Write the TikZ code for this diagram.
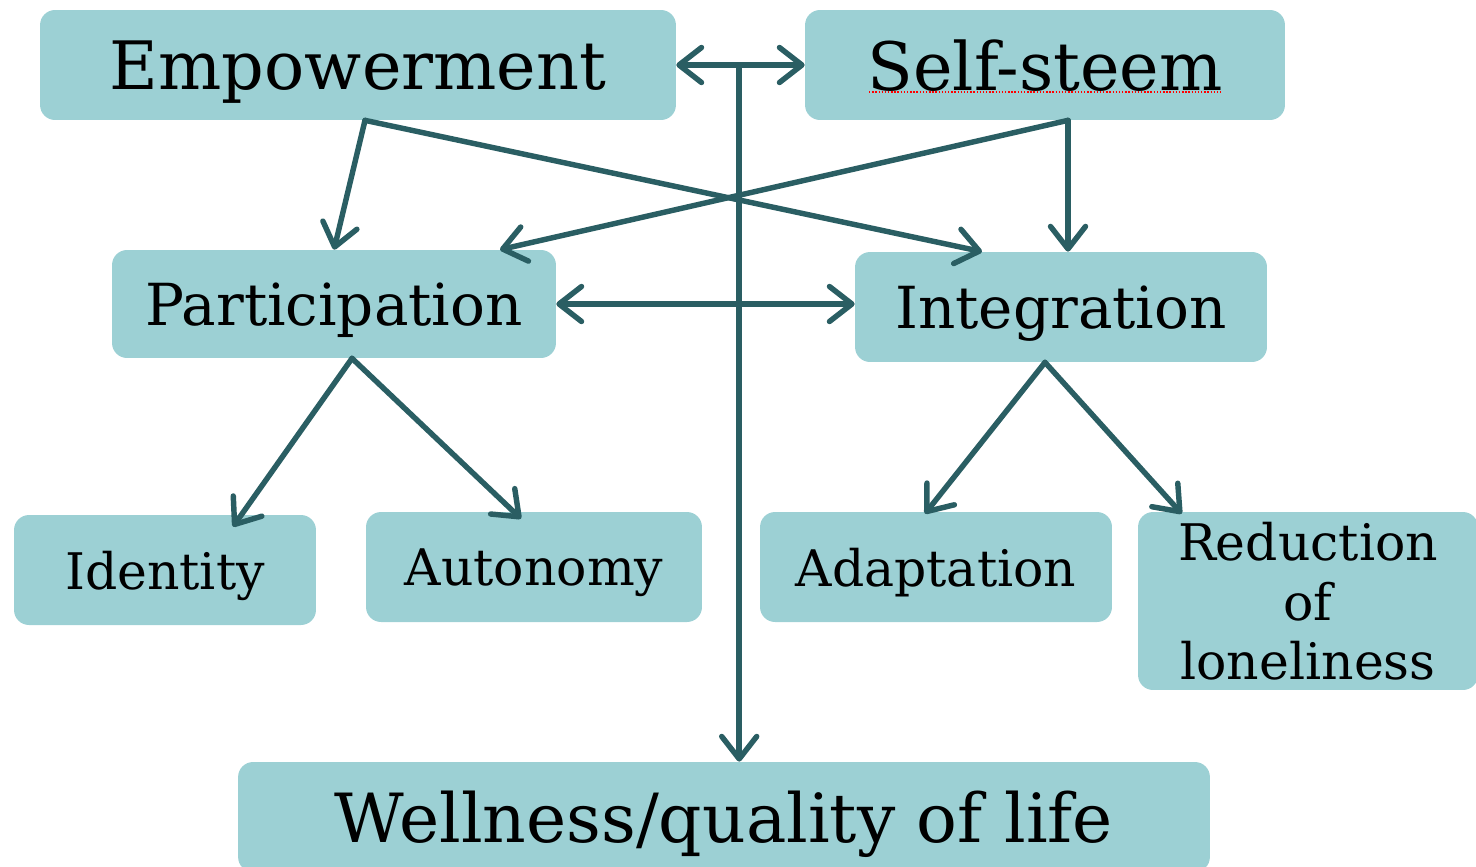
\documentclass[tikz,border=0pt]{standalone}
\usepackage{fontspec}
\setmainfont{DejaVu Serif}
\usetikzlibrary{arrows.meta,calc}

\begin{document}
\begin{tikzpicture}[x=0.02cm, y=-0.02cm]
        % Colours of the boxes and of the links
        \definecolor{boxColor}{RGB}{156,208,212}  % light teal boxes
        \definecolor{linkColor}{RGB}{42,94,99}    % dark teal arrows

        \tikzset{
            box/.style={fill=boxColor, rounded corners=0.3cm, inner sep=0pt, align=center, text depth=0pt},
            bigText/.style={font=\fontsize{38}{45}\selectfont},
            wellText/.style={font=\fontsize{38.6}{46}\selectfont},
            midText/.style={font=\fontsize{33}{40}\selectfont},
            smallText/.style={font=\fontsize{28.7}{34}\selectfont},
            link/.style={draw=linkColor, line width=3.1pt, line cap=round, -{Straight Barb[length=4.5mm, width=7mm, round]}},
            twoWay/.style={link, {Straight Barb[length=4.5mm, width=7mm, round]}-{Straight Barb[length=4.5mm, width=7mm, round]}}
        }

        % Fix the margins of the page
        \useasboundingbox (0,0) rectangle (1476,866);

        % Top row
        \node[box, bigText, minimum width=12.72cm, minimum height=2.2cm] (emp)  at (358,65)  {Empowerment};
        \node[box, bigText, minimum width=9.6cm,  minimum height=2.2cm] (self) at (1045,65) {Self-steem};
        % Spell-check underline under Self-steem
        \draw[red, densely dotted, line width=0.8pt] ($(self.center)+(-176,27)$) -- ++(354,0);

        % Middle row
        \node[box, midText, minimum width=8.88cm, minimum height=2.16cm] (part)  at (334,304)  {Participation};
        \node[box, midText, minimum width=8.24cm, minimum height=2.2cm]  (integ) at (1061,307) {Integration};

        % Bottom row of outcomes
        \node[box, smallText, minimum width=6.04cm, minimum height=2.2cm]  (ident) at (165,570)  {Identity};
        \node[box, smallText, minimum width=6.72cm, minimum height=2.2cm]  (auto)  at (534,567)  {Autonomy};
        \node[box, smallText, minimum width=7.04cm, minimum height=2.2cm]  (adapt) at (936,567)  {Adaptation};
        \node[box, smallText, minimum width=6.8cm,  minimum height=3.56cm] (redu)  at (1308,601) {Reduction\\of\\loneliness};

        % Final result
        \node[box, wellText, minimum width=19.44cm, minimum height=2.2cm] (well) at (724,817) {Wellness/quality of life};

        % Points where the links leave the boxes
        \coordinate (hub)     at ($(emp.east)!0.49!(self.west)$);
        \coordinate (empOut)  at ($(emp.south)+(7,0)$);
        \coordinate (selfOut) at ($(self.south)+(23,0)$);
        \coordinate (partOut) at ($(part.south)+(18,0)$);
        \coordinate (integOut) at ($(integ.south)+(-16,0)$);

        % Links between the top boxes and down to the result
        \draw[twoWay] (emp.east) -- (self.west);
        \draw[link] (hub) -- (hub |- well.north);

        % Empowerment and Self-steem feed the middle row
        \draw[link] (empOut) -- (part.north);
        \draw[link] (empOut) -- ($(integ.north)+(-79,0)$);
        \draw[link] (selfOut) -- (selfOut |- integ.north);
        \draw[link] (selfOut) -- ($(part.north)+(166,0)$);

        % Participation and Integration
        \draw[twoWay] (part.east) -- (part.east -| integ.west);

        % Down to the outcomes
        \draw[link] (partOut) -- ($(ident.north)+(68,12)$);
        \draw[link] (partOut) -- ($(auto.north)+(-13,7)$);
        \draw[link] (integOut) -- ($(adapt.north)+(-11,2)$);
        \draw[link] (integOut) -- ($(redu.north west)+(44,2)$);

    \end{tikzpicture}
\end{document}
